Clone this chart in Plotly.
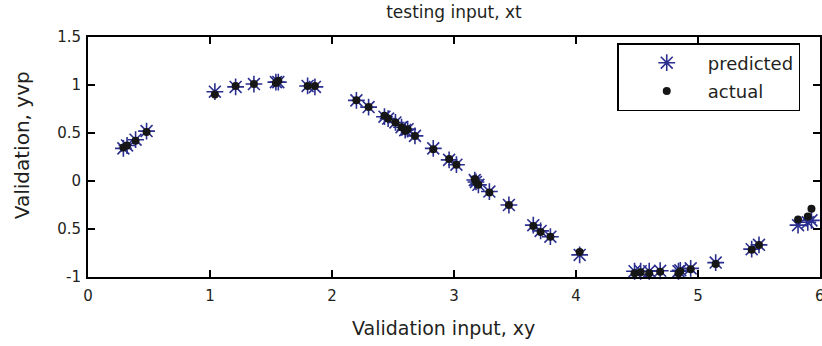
import plotly.graph_objects as go

# Validation inputs (x) and outputs
x_vals = [0.29, 0.32, 0.39, 0.48, 1.04, 1.21, 1.36, 1.54, 1.56, 1.80, 1.86,
          2.20, 2.30, 2.43, 2.46, 2.52, 2.57, 2.60, 2.62, 2.68, 2.83, 2.96,
          3.02, 3.17, 3.18, 3.20, 3.29, 3.45, 3.65, 3.71, 3.79, 4.03, 4.48,
          4.53, 4.60, 4.69, 4.84, 4.855, 4.94, 5.145, 5.44, 5.50, 5.82, 5.90, 5.93]
actual = [0.35, 0.37, 0.42, 0.51, 0.90, 0.99, 1.01, 1.02, 1.045, 0.99, 0.99,
          0.84, 0.77, 0.68, 0.65, 0.61, 0.56, 0.52, 0.54, 0.47, 0.33, 0.23,
          0.17, 0.02, -0.01, -0.04, -0.12, -0.25, -0.47, -0.53, -0.58, -0.74, -0.96,
          -0.95, -0.96, -0.945, -0.96, -0.94, -0.92, -0.865, -0.715, -0.667, -0.40, -0.37, -0.29]
predicted = [0.34, 0.37, 0.43, 0.52, 0.93, 0.98, 1.01, 1.03, 1.03, 0.99, 0.98,
             0.84, 0.77, 0.67, 0.65, 0.61, 0.56, 0.53, 0.54, 0.47, 0.34, 0.22,
             0.17, 0.01, -0.01, -0.04, -0.11, -0.25, -0.46, -0.52, -0.58, -0.77, -0.94,
             -0.94, -0.94, -0.935, -0.94, -0.93, -0.91, -0.85, -0.71, -0.665, -0.46, -0.43, -0.41]

y_tickvals = [-1, -0.5, 0, 0.5, 1, 1.5]
y_ticktext = ["-1", "0.5", "0", "0.5", "1", "1.5"]
x_tickvals = [0, 1, 2, 3, 4, 5, 6]
x_ticktext = ["0", "1", "2", "3", "4", "5", "6"]

FONT = "DejaVu Sans, Liberation Sans, Arial, sans-serif"
TXT = "#231f20"

fig = go.Figure()
fig.add_trace(go.Scatter(
    x=x_vals, y=predicted, mode="markers", name="predicted", legendgroup="a",
    marker=dict(symbol="asterisk-open", size=14, color="#2b2f8f",
                line=dict(width=1.6, color="#2b2f8f")),
    cliponaxis=False,
))
fig.add_trace(go.Scatter(
    x=x_vals, y=actual, mode="markers", name="actual", legendgroup="b",
    marker=dict(symbol="circle", size=8, color="#161616", line=dict(width=0)),
    cliponaxis=False,
))

axis_common = dict(
    showgrid=False, zeroline=False, showline=True, linecolor="black", linewidth=2,
    ticks="inside", ticklen=7, tickwidth=1.5, tickcolor="black", mirror="ticks",
    tickfont=dict(family=FONT, size=15, color=TXT),
)

fig.update_layout(
    width=822, height=346,
    margin=dict(l=88, r=0, t=37, b=69),
    paper_bgcolor="white", plot_bgcolor="white",
    xaxis=dict(range=[0, 6], tickvals=x_tickvals, ticktext=x_ticktext,
               ticklabelstandoff=4, **axis_common),
    yaxis=dict(range=[-1, 1.5], tickvals=y_tickvals, ticktext=y_ticktext,
               ticklabelstandoff=2, **axis_common),
    title=dict(text="testing input, xt", x=0.5, xref="paper", y=1 - 12 / 346,
               yref="container", yanchor="middle", xanchor="center",
               font=dict(family=FONT, size=17, color=TXT)),
    showlegend=True,
    legend=dict(x=0.723, y=0.975, xanchor="left", yanchor="top",
                bgcolor="white", bordercolor="black", borderwidth=1.5,
                font=dict(family=FONT, size=18, color=TXT),
                itemwidth=72, indentation=7, tracegroupgap=2,
                traceorder="grouped"),
    annotations=[
        dict(text=x_ticktext[-1], xref="x", yref="paper",
             x=x_tickvals[-1], y=(277 - 296) / 240, xanchor="center", yanchor="middle",
             showarrow=False, font=dict(family=FONT, size=15, color=TXT)),
        dict(text="Validation input, xy", xref="paper", yref="paper",
             x=(444 - 88) / 734, y=(277 - 328) / 240, xanchor="center", yanchor="middle",
             showarrow=False, font=dict(family=FONT, size=19, color=TXT)),
        dict(text="Validation, yvp", xref="paper", yref="paper",
             x=(22 - 88) / 734, y=(277 - 145) / 240, xanchor="center", yanchor="middle",
             textangle=-90, showarrow=False, font=dict(family=FONT, size=20, color=TXT)),
    ],
)

fig.write_html("out.html")
